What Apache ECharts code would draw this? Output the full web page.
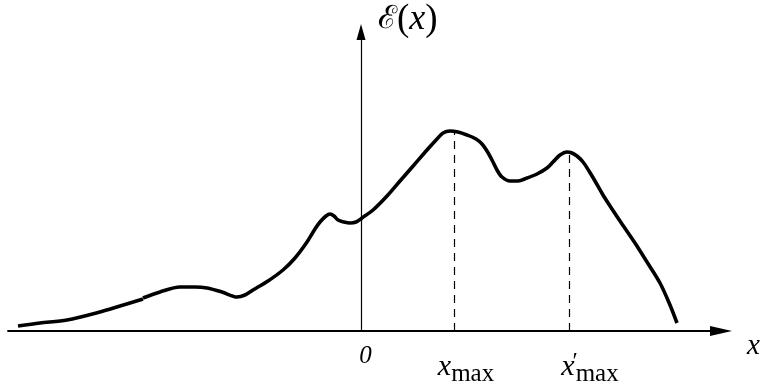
<!DOCTYPE html>
<html>
<head>
<meta charset="utf-8">
<script src="https://cdn.jsdelivr.net/npm/echarts@6/dist/echarts.min.js"></script>
<style>
html,body{margin:0;padding:0;background:#fff;}
#c{width:761px;height:385px;}
</style>
</head>
<body>
<div id="c"></div>
<script>
// Curve, first stroke (left tail)
const curveA = [
  [-3.43, 0.05], [-3.21, 0.08], [-2.94, 0.11], [-2.61, 0.19], [-2.41, 0.25], [-2.18, 0.32]
];
// Curve, second stroke
const curveB = [
  [-2.18, 0.33], [-2.01, 0.39], [-1.81, 0.44], [-1.66, 0.44], [-1.54, 0.43], [-1.39, 0.39],
  [-1.24, 0.34], [-1.16, 0.36], [-1.08, 0.41], [-0.93, 0.50], [-0.78, 0.61], [-0.66, 0.73],
  [-0.54, 0.89], [-0.46, 1.02], [-0.41, 1.09], [-0.35, 1.15], [-0.31, 1.17], [-0.27, 1.15],
  [-0.23, 1.11], [-0.17, 1.09], [-0.11, 1.08], [-0.05, 1.09], [0.01, 1.13], [0.12, 1.21],
  [0.26, 1.35], [0.39, 1.50], [0.53, 1.66], [0.66, 1.81], [0.76, 1.92], [0.82, 1.98],
  [0.89, 2.00], [0.97, 1.99], [1.06, 1.96], [1.15, 1.92], [1.21, 1.87], [1.26, 1.80],
  [1.31, 1.71], [1.36, 1.61], [1.41, 1.54], [1.49, 1.50], [1.57, 1.50], [1.66, 1.53],
  [1.76, 1.57], [1.86, 1.63], [1.92, 1.69], [1.99, 1.76], [2.06, 1.79], [2.11, 1.78],
  [2.16, 1.75], [2.22, 1.69], [2.28, 1.60], [2.34, 1.50], [2.42, 1.36], [2.51, 1.22],
  [2.59, 1.10], [2.74, 0.88], [2.86, 0.69], [2.99, 0.48], [3.09, 0.26], [3.16, 0.08]
];
// Local maxima (dashed drop lines)
const peakX = [0.93, 2.08];
const peakY = [2.00, 1.79];
// Tick positions and labels on the x axis
const tickValues = [0, 0.93, 2.08];
const tickLabels = ['{zero|0}', '{xi|x}{sub|max}', '{xi2|x}{pr|′}{sub|max}'];
const xName = 'x';
const yName = '{e|ℰ}{p|(}{xi|x}{p|)}';

const serif = '"Liberation Serif", "DejaVu Serif", serif';
const chart = echarts.init(document.getElementById('c'), null, {renderer: 'canvas'});

const dropLines = peakX.map((x, i) => [{coord: [x, 0]}, {coord: [x, peakY[i]]}]);

chart.setOption({
  animation: false,
  backgroundColor: '#fff',
  grid: {left: 8, right: 40, top: 32, bottom: 54, containLabel: false, outerBoundsMode: 'none'},
  xAxis: {
    type: 'value', min: -3.53, max: 3.60,
    splitLine: {show: false},
    axisLine: {
      show: true, onZero: false,
      lineStyle: {color: '#000', width: 1.8},
      symbol: ['none', 'triangle'], symbolSize: [10, 22]
    },
    axisTick: {show: true, inside: true, length: 6, customValues: peakX, lineStyle: {color: '#000', width: 1}},
    axisLabel: {
      show: true, customValues: tickValues, margin: 13, align: 'center', verticalAlign: 'top',
      formatter: function (v) { const i = tickValues.indexOf(v); return i >= 0 ? tickLabels[i] : ''; },
      rich: {
        zero: {fontFamily: serif, fontStyle: 'italic', fontSize: 25, color: '#000', padding: [0, 0, 0, 9], verticalAlign: 'top'},
        xi: {fontFamily: serif, fontStyle: 'italic', fontSize: 30, color: '#000', padding: [8, 0, 5, 24], verticalAlign: 'bottom'},
        xi2: {fontFamily: serif, fontStyle: 'italic', fontSize: 30, color: '#000', padding: [8, 0, 5, 42], verticalAlign: 'bottom'},
        pr: {fontFamily: serif, fontSize: 24, color: '#000', width: 1, align: 'left', verticalAlign: 'top', padding: [6, 0, 0, 0]},
        sub: {fontFamily: serif, fontSize: 25, color: '#000', verticalAlign: 'bottom'}
      }
    },
    name: xName, nameLocation: 'end', nameGap: 26,
    nameTextStyle: {fontFamily: serif, fontStyle: 'italic', fontSize: 29, color: '#000', align: 'left', verticalAlign: 'top', padding: [1, 0, 0, 0]}
  },
  yAxis: {
    type: 'value', min: 0, max: 2.99,
    splitLine: {show: false},
    axisLine: {
      show: true, onZero: true,
      lineStyle: {color: '#000', width: 1.2},
      symbol: ['none', 'triangle'], symbolSize: [9, 16]
    },
    axisTick: {show: false},
    axisLabel: {show: false},
    name: yName, nameLocation: 'end', nameGap: 12,
    nameTextStyle: {
      align: 'left', verticalAlign: 'middle', padding: [0, 0, 0, 17],
      rich: {
        e: {fontFamily: serif, fontSize: 32, color: '#000'},
        p: {fontFamily: serif, fontSize: 37, color: '#000'},
        xi: {fontFamily: serif, fontStyle: 'italic', fontSize: 36, color: '#000'}
      }
    }
  },
  series: [
    {
      type: 'line', data: curveA, showSymbol: false, smooth: 0.3, silent: true,
      lineStyle: {color: '#000', width: 3.6}
    },
    {
      type: 'line', data: curveB, showSymbol: false, smooth: 0.3, silent: true,
      lineStyle: {color: '#000', width: 3.6},
      markLine: {
        silent: true, symbol: ['none', 'none'], label: {show: false},
        lineStyle: {color: '#000', width: 1.2, type: [8, 6]},
        data: dropLines
      }
    }
  ]
});
</script>
</body>
</html>
